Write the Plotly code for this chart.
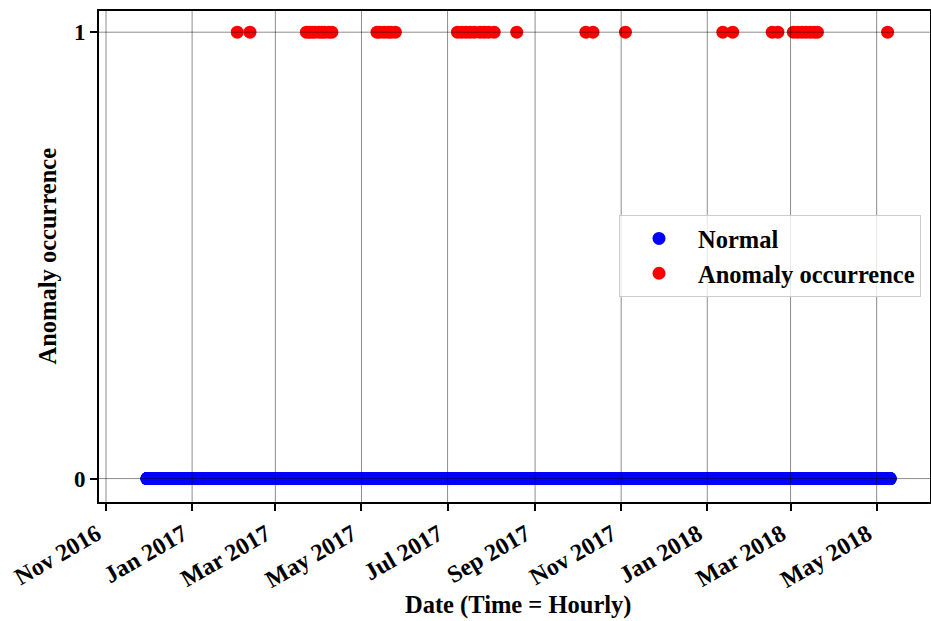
import pandas as pd
import plotly.graph_objects as go

# ---- data ----
normal_segments_start = ["2016-11-30 00:00", "2018-03-16 12:00"]
normal_segments_end = ["2018-03-12 12:00", "2018-05-10 14:00"]
normal_value = 0

anomaly_dates = [
    "2017-02-02 00:00", "2017-02-11 00:00",
    "2017-03-23 00:00", "2017-03-25 00:00", "2017-03-27 00:00", "2017-03-29 00:00", "2017-04-01 00:00",
    "2017-04-03 00:00", "2017-04-05 00:00", "2017-04-08 00:00", "2017-04-10 00:00",
    "2017-05-12 00:00", "2017-05-14 00:00", "2017-05-17 00:00", "2017-05-20 00:00", "2017-05-22 00:00",
    "2017-05-25 00:00",
    "2017-07-08 00:00", "2017-07-11 00:00", "2017-07-14 00:00", "2017-07-17 00:00", "2017-07-20 00:00",
    "2017-07-24 00:00", "2017-07-27 00:00", "2017-07-30 00:00", "2017-08-03 00:00",
    "2017-08-19 00:00",
    "2017-10-07 00:00", "2017-10-12 00:00",
    "2017-11-04 00:00",
    "2018-01-12 00:00", "2018-01-19 00:00",
    "2018-02-16 00:00", "2018-02-20 00:00",
    "2018-03-03 00:00", "2018-03-06 00:00", "2018-03-09 00:00", "2018-03-12 00:00", "2018-03-15 00:00",
    "2018-03-18 00:00", "2018-03-20 00:00",
    "2018-05-08 18:00",
]
anomaly_value = 1

tick_dates = ["2016-11-01", "2017-01-01", "2017-03-01", "2017-05-01", "2017-07-01",
              "2017-09-01", "2017-11-01", "2018-01-01", "2018-03-01", "2018-05-01"]
tick_labels = ["Nov 2016", "Jan 2017", "Mar 2017", "May 2017", "Jul 2017",
               "Sep 2017", "Nov 2017", "Jan 2018", "Mar 2018", "May 2018"]
y_ticks = [0, 1]
x_range = ["2016-10-27 01:00", "2018-06-07 19:00"]

# hourly timestamps of the normal periods
normal_times = pd.DatetimeIndex([])
for s, e in zip(normal_segments_start, normal_segments_end):
    normal_times = normal_times.append(pd.date_range(s, e, freq="h"))
normal_y = [normal_value] * len(normal_times)
anomaly_y = [anomaly_value] * len(anomaly_dates)

FONT = "Liberation Serif, Times New Roman, serif"

fig = go.Figure()
fig.add_trace(go.Scatter(x=normal_times, y=normal_y, mode="markers", name="Normal",
                         marker=dict(color="#0000ff", size=13, line=dict(width=0))))
fig.add_trace(go.Scatter(x=pd.to_datetime(anomaly_dates, format="%Y-%m-%d %H:%M"), y=anomaly_y,
                         mode="markers", name="Anomaly occurrence",
                         marker=dict(color="#ff0000", size=13, line=dict(width=0))))

grid_col = "rgba(0,0,0,0.45)"
shapes = []
for d in tick_dates:
    shapes.append(dict(type="line", xref="x", yref="paper", x0=d, x1=d, y0=0, y1=1,
                       line=dict(color=grid_col, width=1), layer="above"))
for v in y_ticks:
    shapes.append(dict(type="line", xref="paper", yref="y", x0=0, x1=1, y0=v, y1=v,
                       line=dict(color=grid_col, width=1), layer="above"))

fig.update_layout(
    width=931, height=621, autosize=False,
    margin=dict(l=99, r=1, t=11, b=119),
    plot_bgcolor="white", paper_bgcolor="white",
    font=dict(family=FONT, size=23, color="black", weight="bold"),
    shapes=shapes,
    showlegend=True,
    legend=dict(x=(619 - 99) / 831, y=(502 - 215) / 491, xanchor="left", yanchor="top",
                bgcolor="rgba(255,255,255,0.8)", bordercolor="#cccccc", borderwidth=1,
                font=dict(family=FONT, size=24.5, color="black", weight="bold"),
                itemwidth=68),
    annotations=[
        dict(text="Date (Time = Hourly)", xref="paper", yref="paper", x=(518 - 99) / 831, y=0,
             yanchor="middle", xanchor="center", yshift=-103, showarrow=False,
             font=dict(family=FONT, size=24.5, color="black", weight="bold")),
        dict(text="Anomaly occurrence", xref="paper", yref="paper", x=0, y=0.5,
             xanchor="center", yanchor="middle", xshift=-52, textangle=-90, showarrow=False,
             font=dict(family=FONT, size=24.5, color="black", weight="bold")),
    ],
)
fig.update_xaxes(type="date", range=x_range, tickvals=tick_dates, ticktext=tick_labels,
                 tickangle=-30, showgrid=False, zeroline=False, showline=True, mirror=True,
                 linecolor="black", linewidth=1.8, ticks="outside", ticklen=7, tickwidth=1.5,
                 tickcolor="black", automargin=False, ticklabelshift=-9,
                 tickfont=dict(family=FONT, size=24, color="black", weight="bold"))
fig.update_yaxes(range=[-0.0525, 1.0475], tickvals=y_ticks, ticktext=["0", "1"],
                 showgrid=False, zeroline=False, showline=True, mirror=True,
                 linecolor="black", linewidth=1.8, ticks="outside", ticklen=7, tickwidth=1.5,
                 tickcolor="black", automargin=False,
                 tickfont=dict(family=FONT, size=23, color="black", weight="bold"))

fig.write_html("out.html", config={"displayModeBar": False},
               post_script="document.body.style.margin='0';document.body.style.overflow='hidden';")
